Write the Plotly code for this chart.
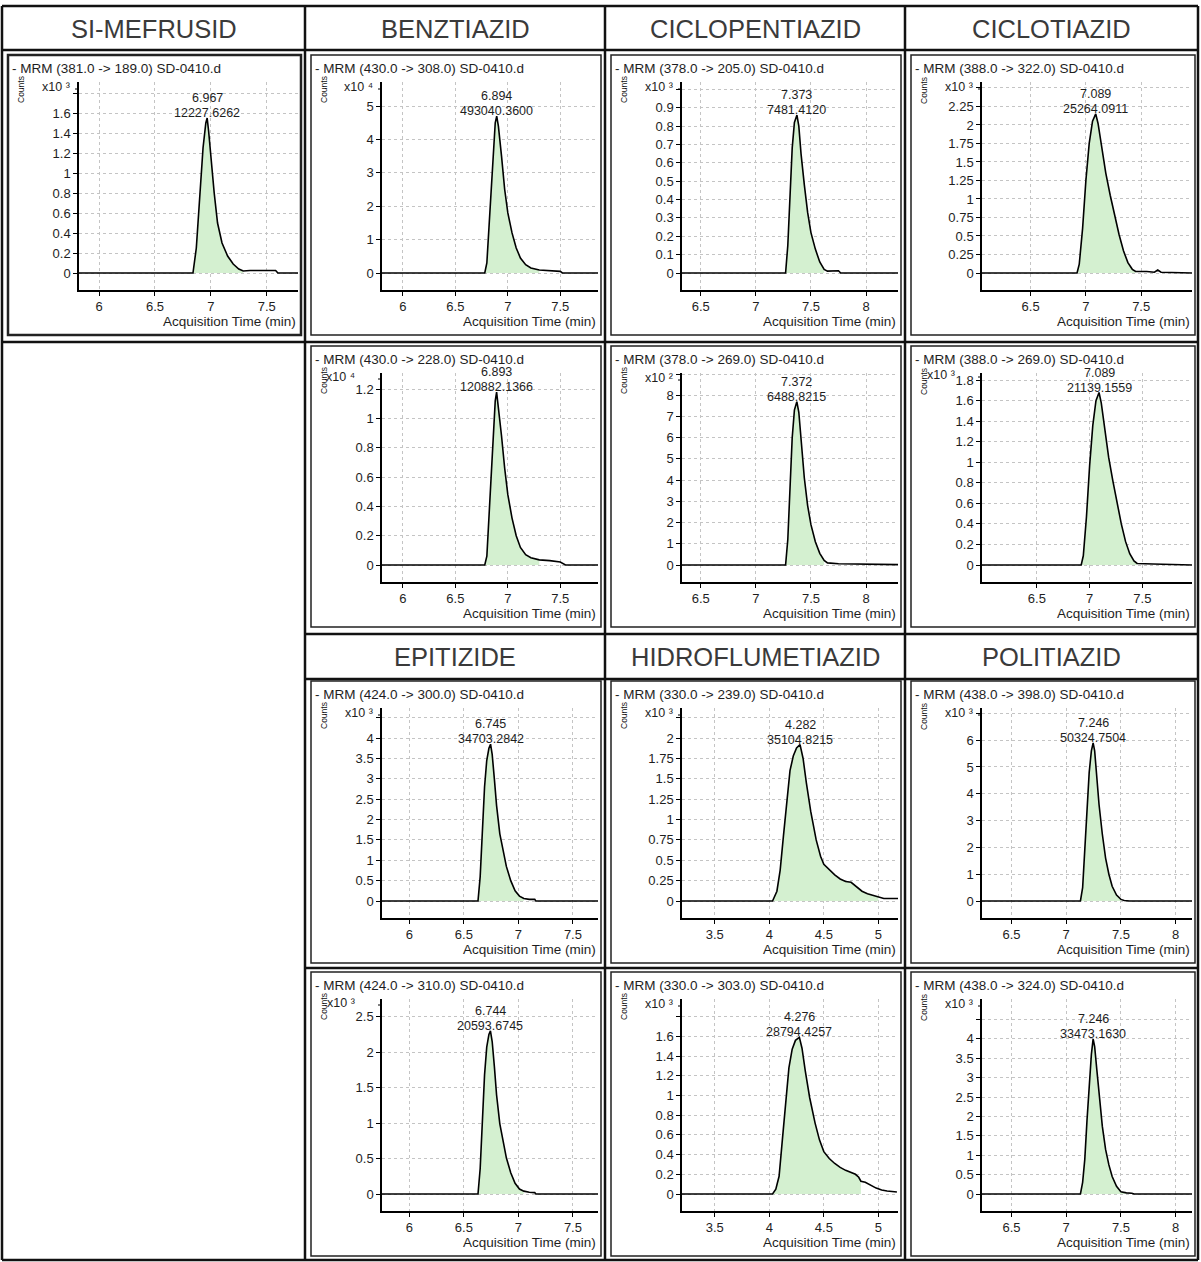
import plotly.graph_objects as go

W, H = 1201, 1262

# ---------------- data ----------------
COMPOUNDS_TOP = ["SI-MEFRUSID", "BENZTIAZID", "CICLOPENTIAZID", "CICLOTIAZID"]
COMPOUNDS_MID = ["EPITIZIDE", "HIDROFLUMETIAZID", "POLITIAZID"]

# SI-MEFRUSID  MRM 381 -> 189  (x10^3)
T_SIM_189 = [5.82, 6.84, 6.87, 6.90, 6.93, 6.955, 6.967, 6.98, 7.00, 7.03, 7.06, 7.10, 7.15, 7.20, 7.25, 7.29, 7.35, 7.45, 7.58, 7.60, 7.78]
Y_SIM_189 = [0, 0, 0.25, 0.75, 1.25, 1.50, 1.55, 1.42, 1.15, 0.80, 0.50, 0.30, 0.17, 0.09, 0.04, 0.02, 0.025, 0.025, 0.025, 0.0, 0.0]

# BENZTIAZID MRM 430 -> 308 (x10^4)
T_BEN_308 = [5.80, 6.78, 6.80, 6.83, 6.86, 6.88, 6.894, 6.91, 6.94, 6.97, 7.00, 7.04, 7.08, 7.12, 7.17, 7.22, 7.30, 7.40, 7.50, 7.52, 7.86]
Y_BEN_308 = [0, 0, 0.3, 1.8, 3.5, 4.5, 4.7, 4.4, 3.5, 2.5, 1.8, 1.2, 0.75, 0.45, 0.25, 0.15, 0.09, 0.06, 0.05, 0, 0]

# CICLOPENTIAZID MRM 378 -> 205 (x10^3)
T_CPE_205 = [6.33, 7.27, 7.29, 7.31, 7.33, 7.35, 7.373, 7.39, 7.41, 7.44, 7.47, 7.50, 7.54, 7.58, 7.62, 7.65, 7.70, 7.75, 7.77, 8.29]
Y_CPE_205 = [0, 0, 0.15, 0.42, 0.68, 0.82, 0.86, 0.80, 0.65, 0.48, 0.33, 0.22, 0.13, 0.06, 0.02, 0.01, 0.012, 0.012, 0, 0]

# CICLOTIAZID MRM 388 -> 322 (x10^3)
T_CTI_322 = [6.06, 6.92, 6.94, 6.97, 7.00, 7.03, 7.06, 7.089, 7.11, 7.14, 7.18, 7.22, 7.26, 7.30, 7.34, 7.38, 7.42, 7.45, 7.55, 7.62, 7.65, 7.68, 7.96]
Y_CTI_322 = [0, 0, 0.12, 0.6, 1.25, 1.75, 2.05, 2.15, 2.02, 1.72, 1.35, 1.05, 0.78, 0.52, 0.30, 0.14, 0.05, 0.02, 0.02, 0.01, 0.04, 0.01, 0.0]

# BENZTIAZID MRM 430 -> 228 (x10^4)
T_BEN_228 = [5.80, 6.78, 6.80, 6.83, 6.86, 6.88, 6.893, 6.91, 6.94, 6.97, 7.00, 7.04, 7.08, 7.12, 7.17, 7.22, 7.30, 7.40, 7.50, 7.55, 7.86]
Y_BEN_228 = [0, 0, 0.06, 0.45, 0.88, 1.12, 1.18, 1.08, 0.88, 0.66, 0.48, 0.32, 0.20, 0.12, 0.07, 0.05, 0.035, 0.03, 0.02, 0.0, 0]

# CICLOPENTIAZID MRM 378 -> 269 (x10^2)
T_CPE_269 = [6.33, 7.27, 7.29, 7.31, 7.33, 7.35, 7.372, 7.39, 7.41, 7.44, 7.47, 7.50, 7.54, 7.58, 7.62, 7.65, 7.75, 7.90, 8.05, 8.29]
Y_CPE_269 = [0, 0, 1.2, 3.7, 6.0, 7.3, 7.7, 7.2, 5.8, 4.1, 2.8, 1.9, 1.1, 0.55, 0.22, 0.1, 0.06, 0.05, 0.04, 0.02]

# CICLOTIAZID MRM 388 -> 269 (x10^3)
T_CTI_269 = [5.98, 6.92, 6.94, 6.97, 7.00, 7.03, 7.06, 7.089, 7.11, 7.14, 7.18, 7.22, 7.26, 7.30, 7.34, 7.38, 7.42, 7.45, 7.60, 7.97]
Y_CTI_269 = [0, 0, 0.09, 0.47, 0.97, 1.36, 1.60, 1.68, 1.58, 1.34, 1.05, 0.82, 0.60, 0.40, 0.23, 0.11, 0.04, 0.015, 0.01, 0.0]

# EPITIZIDE MRM 424 -> 300 (x10^3)
T_EPI_300 = [5.75, 6.63, 6.65, 6.67, 6.69, 6.71, 6.73, 6.745, 6.76, 6.78, 6.80, 6.83, 6.86, 6.89, 6.93, 6.97, 7.01, 7.05, 7.10, 7.15, 7.16, 7.73]
Y_EPI_300 = [0, 0, 0.6, 1.7, 2.8, 3.45, 3.75, 3.85, 3.6, 3.0, 2.35, 1.65, 1.2, 0.85, 0.5, 0.25, 0.12, 0.06, 0.04, 0.04, 0, 0]

# HIDROFLUMETIAZID MRM 330 -> 239 (x10^3)
T_HID_239 = [3.2, 4.03, 4.07, 4.10, 4.13, 4.16, 4.19, 4.22, 4.25, 4.282, 4.31, 4.34, 4.38, 4.43, 4.47, 4.50, 4.55, 4.60, 4.65, 4.70, 4.75, 4.80, 4.85, 4.90, 4.95, 5.00, 5.05, 5.18]
Y_HID_239 = [0, 0, 0.12, 0.38, 0.8, 1.25, 1.6, 1.78, 1.88, 1.92, 1.75, 1.45, 1.1, 0.75, 0.55, 0.45, 0.38, 0.32, 0.27, 0.24, 0.23, 0.18, 0.12, 0.09, 0.07, 0.05, 0.03, 0.03]

# POLITIAZID MRM 438 -> 398 (x10^3)
T_POL_398 = [6.23, 7.13, 7.15, 7.17, 7.19, 7.21, 7.23, 7.246, 7.26, 7.28, 7.30, 7.33, 7.36, 7.39, 7.42, 7.46, 7.50, 7.53, 7.58, 8.15]
Y_POL_398 = [0, 0, 0.5, 1.8, 3.4, 4.8, 5.6, 5.9, 5.6, 4.6, 3.6, 2.5, 1.6, 1.0, 0.55, 0.22, 0.06, 0.02, 0.0, 0]

# EPITIZIDE MRM 424 -> 310 (x10^3)
T_EPI_310 = [5.75, 6.63, 6.65, 6.67, 6.69, 6.71, 6.73, 6.744, 6.76, 6.78, 6.80, 6.83, 6.86, 6.89, 6.93, 6.97, 7.01, 7.05, 7.10, 7.15, 7.16, 7.73]
Y_EPI_310 = [0, 0, 0.36, 1.02, 1.68, 2.07, 2.25, 2.30, 2.15, 1.8, 1.4, 0.99, 0.72, 0.51, 0.3, 0.15, 0.07, 0.04, 0.025, 0.02, 0, 0]

# HIDROFLUMETIAZID MRM 330 -> 303 (x10^3)
T_HID_303 = [3.2, 4.03, 4.06, 4.09, 4.12, 4.15, 4.18, 4.21, 4.24, 4.276, 4.30, 4.33, 4.37, 4.42, 4.46, 4.50, 4.55, 4.60, 4.65, 4.70, 4.75, 4.79, 4.82, 4.84, 4.88, 4.93, 4.98, 5.03, 5.08, 5.17]
Y_HID_303 = [0, 0, 0.05, 0.18, 0.55, 0.95, 1.28, 1.47, 1.56, 1.59, 1.48, 1.25, 0.98, 0.72, 0.55, 0.43, 0.36, 0.31, 0.27, 0.24, 0.22, 0.2, 0.17, 0.13, 0.12, 0.09, 0.06, 0.04, 0.03, 0.02]

# POLITIAZID MRM 438 -> 324 (x10^3)
T_POL_324 = [6.23, 7.13, 7.15, 7.17, 7.19, 7.21, 7.23, 7.246, 7.26, 7.28, 7.30, 7.33, 7.36, 7.39, 7.42, 7.46, 7.50, 7.55, 7.60, 7.62, 8.15]
Y_POL_324 = [0, 0, 0.3, 0.9, 1.9, 2.9, 3.6, 4.0, 3.8, 3.2, 2.55, 1.75, 1.15, 0.75, 0.45, 0.2, 0.06, 0.03, 0.02, 0, 0]

MRM_LABELS = ["- MRM (381.0 -> 189.0) SD-0410.d", "- MRM (430.0 -> 308.0) SD-0410.d",
              "- MRM (378.0 -> 205.0) SD-0410.d", "- MRM (388.0 -> 322.0) SD-0410.d",
              "- MRM (430.0 -> 228.0) SD-0410.d", "- MRM (378.0 -> 269.0) SD-0410.d",
              "- MRM (388.0 -> 269.0) SD-0410.d", "- MRM (424.0 -> 300.0) SD-0410.d",
              "- MRM (330.0 -> 239.0) SD-0410.d", "- MRM (438.0 -> 398.0) SD-0410.d",
              "- MRM (424.0 -> 310.0) SD-0410.d", "- MRM (330.0 -> 303.0) SD-0410.d",
              "- MRM (438.0 -> 324.0) SD-0410.d"]
RT_LABELS = ["6.967", "6.894", "7.373", "7.089", "6.893", "7.372", "7.089",
             "6.745", "4.282", "7.246", "6.744", "4.276", "7.246"]
AREA_LABELS = ["12227.6262", "493040.3600", "7481.4120", "25264.0911", "120882.1366", "6488.8215",
               "21139.1559", "34703.2842", "35104.8215", "50324.7504", "20593.6745", "28794.4257",
               "33473.1630"]
EXPONENTS = [3, 4, 3, 3, 4, 2, 3, 3, 3, 3, 3, 3, 3]

YT_SIM_189 = [0, 0.2, 0.4, 0.6, 0.8, 1, 1.2, 1.4, 1.6]
YT_BEN_308 = [0, 1, 2, 3, 4, 5]
YT_CPE_205 = [0, 0.1, 0.2, 0.3, 0.4, 0.5, 0.6, 0.7, 0.8, 0.9]
YT_CTI_322 = [0, 0.25, 0.5, 0.75, 1, 1.25, 1.5, 1.75, 2, 2.25]
YT_BEN_228 = [0, 0.2, 0.4, 0.6, 0.8, 1, 1.2]
YT_CPE_269 = [0, 1, 2, 3, 4, 5, 6, 7, 8]
YT_CTI_269 = [0, 0.2, 0.4, 0.6, 0.8, 1, 1.2, 1.4, 1.6, 1.8]
YT_EPI_300 = [0, 0.5, 1, 1.5, 2, 2.5, 3, 3.5, 4]
YT_HID_239 = [0, 0.25, 0.5, 0.75, 1, 1.25, 1.5, 1.75, 2]
YT_POL_398 = [0, 1, 2, 3, 4, 5, 6]
YT_EPI_310 = [0, 0.5, 1, 1.5, 2, 2.5]
YT_HID_303 = [0, 0.2, 0.4, 0.6, 0.8, 1, 1.2, 1.4, 1.6]
YT_POL_324 = [0, 0.5, 1, 1.5, 2, 2.5, 3, 3.5, 4]

XT_A = [6, 6.5, 7, 7.5]
XT_B = [6.5, 7, 7.5, 8]
XT_C = [3.5, 4, 4.5, 5]

# ---------------- layout ----------------
CELL_X = [2, 305, 605, 905, 1198]
COLS = [(8, 301), (311, 601), (611, 901), (911, 1195)]
ROWS = [(55, 335), (346, 627), (681, 963), (972, 1256)]

PANELS = [
    dict(col=0, row=0, t=T_SIM_189, y=Y_SIM_189, yt=YT_SIM_189, hid=[1.8], xt=XT_A, xr=[5.82, 7.78], ytop=1.91, integ=(6.84, 7.29), x10=34, x10x=64),
    dict(col=1, row=0, t=T_BEN_308, y=Y_BEN_308, yt=YT_BEN_308, hid=[], xt=XT_A, xr=[5.80, 7.86], ytop=5.72, integ=(6.78, 7.30), x10=34, x10x=64),
    dict(col=2, row=0, t=T_CPE_205, y=Y_CPE_205, yt=YT_CPE_205, hid=[1.0], xt=XT_B, xr=[6.33, 8.29], ytop=1.04, integ=(7.27, 7.64), x10=34, x10x=64),
    dict(col=3, row=0, t=T_CTI_322, y=Y_CTI_322, yt=YT_CTI_322, hid=[2.5], xt=XT_A[1:], xr=[6.06, 7.96], ytop=2.58, integ=(6.92, 7.45), x10=34, x10x=64),
    dict(col=1, row=1, t=T_BEN_228, y=Y_BEN_228, yt=YT_BEN_228, hid=[], xt=XT_A, xr=[5.80, 7.86], ytop=1.31, integ=(6.78, 7.30), x10=33, x10x=46),
    dict(col=2, row=1, t=T_CPE_269, y=Y_CPE_269, yt=YT_CPE_269, hid=[9], xt=XT_B, xr=[6.33, 8.29], ytop=9.05, integ=(7.27, 7.63), x10=34, x10x=64),
    dict(col=3, row=1, t=T_CTI_269, y=Y_CTI_269, yt=YT_CTI_269, hid=[], xt=XT_A[1:], xr=[5.98, 7.97], ytop=1.87, integ=(6.92, 7.45), x10=31, x10x=46),
    dict(col=1, row=2, t=T_EPI_300, y=Y_EPI_300, yt=YT_EPI_300, hid=[4.5], xt=XT_A, xr=[5.75, 7.73], ytop=4.74, integ=(6.63, 7.08), x10=34, x10x=64),
    dict(col=2, row=2, t=T_HID_239, y=Y_HID_239, yt=YT_HID_239, hid=[2.25], xt=XT_C, xr=[3.20, 5.18], ytop=2.37, integ=(4.03, 5.03), x10=34, x10x=64),
    dict(col=3, row=2, t=T_POL_398, y=Y_POL_398, yt=YT_POL_398, hid=[7], xt=XT_B, xr=[6.23, 8.15], ytop=7.2, integ=(7.13, 7.52), x10=34, x10x=64),
    dict(col=1, row=3, t=T_EPI_310, y=Y_EPI_310, yt=YT_EPI_310, hid=[], xt=XT_A, xr=[5.75, 7.73], ytop=2.75, integ=(6.63, 7.08), x10=33, x10x=46),
    dict(col=2, row=3, t=T_HID_303, y=Y_HID_303, yt=YT_HID_303, hid=[1.8], xt=XT_C, xr=[3.20, 5.18], ytop=1.98, integ=(4.03, 4.84), x10=34, x10x=64),
    dict(col=3, row=3, t=T_POL_324, y=Y_POL_324, yt=YT_POL_324, hid=[4.5], xt=XT_B, xr=[6.23, 8.15], ytop=5.03, integ=(7.13, 7.55), x10=34, x10x=64),
]

FONT = "Liberation Sans, Arial, sans-serif"
FILL = "rgb(212,240,208)"
SUP = {2: "²", 3: "³", 4: "⁴"}
TXT = "#1e1e1e"


def fx(x):
    return x / W


def fy(y):
    return 1 - y / H


fig = go.Figure()
shapes = []
annotations = []


def fmt(v):
    return f"{v:g}"


for i, p in enumerate(PANELS):
    n = i + 1
    xa = "x" if n == 1 else f"x{n}"
    ya = "y" if n == 1 else f"y{n}"
    xkey = "xaxis" if n == 1 else f"xaxis{n}"
    ykey = "yaxis" if n == 1 else f"yaxis{n}"
    L, R = COLS[p["col"]]
    T, B = ROWS[p["row"]]
    ax_l, ax_r = L + 71, R - 3
    ax_t, ax_b = T + 27, B - 45
    hp = ax_b - ax_t
    ytop = p["ytop"]
    ymin = -ytop * 17 / (hp - 17)

    axis_common = dict(
        showline=True, linecolor="black", linewidth=1.5,
        ticks="outside", ticklen=4, tickwidth=1, tickcolor="black",
        showgrid=True, gridcolor="#c4c4c4", griddash="dot", gridwidth=1,
        zeroline=False, tickfont=dict(family=FONT, size=13, color=TXT),
        fixedrange=True,
    )
    fig.layout[xkey] = dict(axis_common, domain=[fx(ax_l), fx(ax_r)], anchor=ya, range=p["xr"],
                            tickvals=p["xt"], ticktext=[fmt(v) for v in p["xt"]])
    fig.layout[ykey] = dict(axis_common, domain=[fy(ax_b), fy(ax_t)], anchor=xa, range=[ymin, ytop],
                            tickvals=p["yt"] + p["hid"],
                            ticktext=[fmt(v) for v in p["yt"]] + [""] * len(p["hid"]))

    a, b = p["integ"]
    fx_t = [t for t in p["t"] if a <= t <= b]
    fx_y = [v for t, v in zip(p["t"], p["y"]) if a <= t <= b]
    fig.add_trace(go.Scatter(x=fx_t, y=fx_y, mode="lines", fill="tozeroy", fillcolor=FILL,
                             line=dict(width=0, color=FILL), xaxis=xa, yaxis=ya, hoverinfo="skip"))
    fig.add_trace(go.Scatter(x=p["t"], y=p["y"], mode="lines", line=dict(color="black", width=1.6),
                             xaxis=xa, yaxis=ya, hoverinfo="skip"))

    # panel box
    shapes.append(dict(type="rect", xref="paper", yref="paper", x0=fx(L), x1=fx(R), y0=fy(B), y1=fy(T),
                       line=dict(color="#222", width=2.5 if i == 0 else 1.5)))
    # x10 tick
    shapes.append(dict(type="line", xref="paper", yref="paper", x0=fx(ax_l - 4), x1=fx(ax_l),
                       y0=fy(T + p["x10"]), y1=fy(T + p["x10"]), line=dict(color="black", width=1)))

    peak = max(p["y"])
    rt = RT_LABELS[i]
    annotations += [
        dict(xref="paper", yref="paper", x=fx(L + 2), y=fy(T + 13), text=MRM_LABELS[i], showarrow=False,
             xanchor="left", yanchor="middle", font=dict(family=FONT, size=13.5, color=TXT)),
        dict(xref="paper", yref="paper", x=fx(L + 13), y=fy(T + 35), text="Counts", showarrow=False,
             textangle=-90, xanchor="center", yanchor="middle", font=dict(family=FONT, size=8.5, color="#111")),
        dict(xref="paper", yref="paper", x=fx(L + p["x10x"]), y=fy(T + p["x10"] - 2),
             text=f"x10 {SUP[EXPONENTS[i]]}", showarrow=False,
             xanchor="right", yanchor="middle", font=dict(family=FONT, size=12.5, color=TXT)),
        dict(xref="paper", yref="paper", x=fx(R - 3), y=fy(B - 14), text="Acquisition Time (min)",
             showarrow=False, xanchor="right", yanchor="middle", font=dict(family=FONT, size=13.5, color=TXT)),
        dict(xref=xa, yref=ya, x=float(rt), y=peak, text=rt, showarrow=False, xanchor="center",
             yanchor="bottom", yshift=11, font=dict(family=FONT, size=12.5, color=TXT)),
        dict(xref=xa, yref=ya, x=float(rt), y=peak, text=AREA_LABELS[i], showarrow=False, xanchor="center",
             yanchor="bottom", yshift=-4, font=dict(family=FONT, size=12.5, color=TXT)),
    ]

# headers
for c, name in enumerate(COMPOUNDS_TOP):
    annotations.append(dict(xref="paper", yref="paper", x=fx((CELL_X[c] + CELL_X[c + 1]) / 2), y=fy(29),
                            text=name, showarrow=False, xanchor="center", yanchor="middle",
                            font=dict(family=FONT, size=25.5, color="#3a3a3a")))
for c, name in enumerate(COMPOUNDS_MID, start=1):
    annotations.append(dict(xref="paper", yref="paper", x=fx((CELL_X[c] + CELL_X[c + 1]) / 2), y=fy(657),
                            text=name, showarrow=False, xanchor="center", yanchor="middle",
                            font=dict(family=FONT, size=25.5, color="#3a3a3a")))

# table lines
HLINES = [(2, 1198, 6), (2, 1198, 50), (2, 1198, 342), (305, 1198, 634), (305, 1198, 679),
          (305, 1198, 968), (2, 1198, 1260)]
VLINES = [(2, 6, 1260), (305, 6, 1260), (605, 6, 1260), (905, 6, 1260), (1198, 6, 1260)]
for x0, x1, y in HLINES:
    shapes.append(dict(type="line", xref="paper", yref="paper", x0=fx(x0), x1=fx(x1), y0=fy(y), y1=fy(y),
                       line=dict(color="#111", width=2.5)))
for x, y0, y1 in VLINES:
    shapes.append(dict(type="line", xref="paper", yref="paper", x0=fx(x), x1=fx(x), y0=fy(y0), y1=fy(y1),
                       line=dict(color="#111", width=2.5)))

fig.update_layout(width=W, height=H, margin=dict(l=0, r=0, t=0, b=0), autosize=False,
                  showlegend=False, paper_bgcolor="white", plot_bgcolor="white",
                  shapes=shapes, annotations=annotations, font=dict(family=FONT))

fig.write_html("out.html", config={"displayModeBar": False},
               post_script="document.body.style.margin='0';document.body.style.padding='0';"
                           "document.body.style.overflow='hidden';")
